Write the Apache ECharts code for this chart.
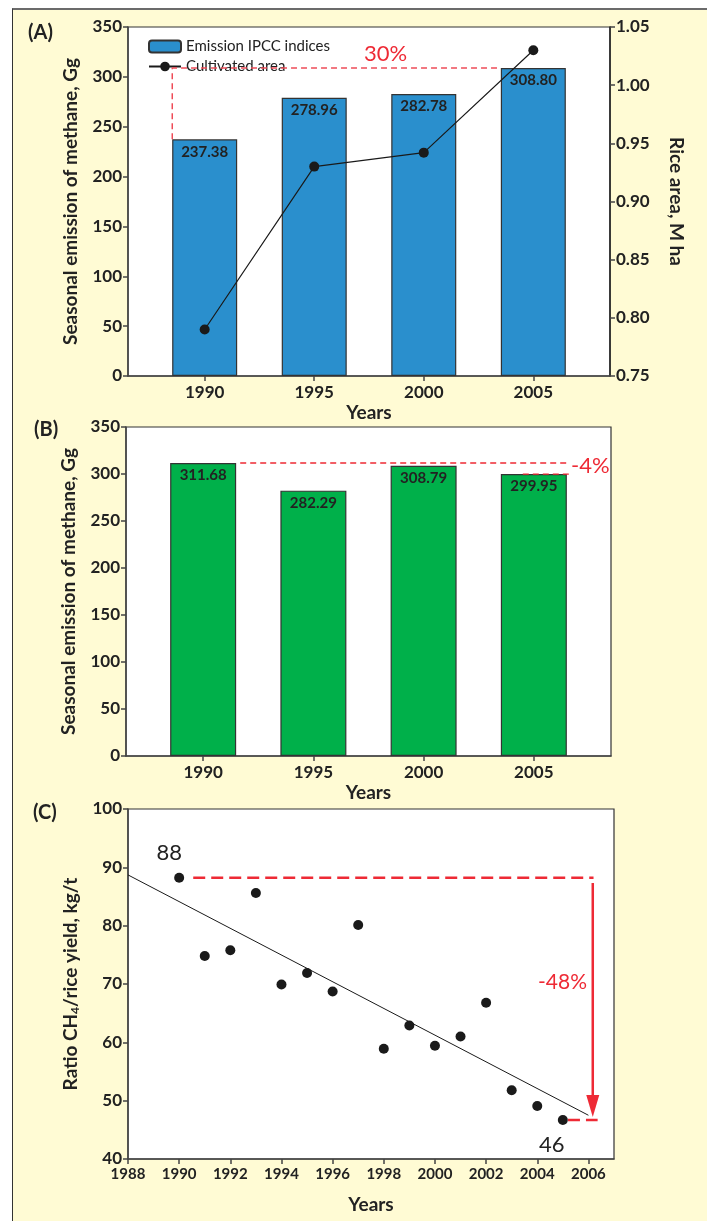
<!DOCTYPE html>
<html>
<head>
<meta charset="utf-8">
<script src="https://cdn.jsdelivr.net/npm/echarts@6/dist/echarts.min.js"></script>
<style>
  html, body { margin: 0; padding: 0; background: #fff; }
  #panel {
    position: absolute; left: 12px; top: 8px; right: 0; bottom: 0;
    background: #FFFBD4;
    border-top: 2px solid #6b6b6b;
    border-left: 1.5px solid #333;
  }
  #chart { position: absolute; left: 0; top: 0; width: 707px; height: 1221px; }
</style>
</head>
<body>
<div id="panel"></div>
<div id="chart"></div>
<script>
// ---- data ----
const barYears = [1990, 1995, 2000, 2005]
const emissionIPCC = [237.38, 278.96, 282.78, 308.80]   // (A) bars
const riceArea = [0.79, 0.93, 0.942, 1.03]               // (A) line, M ha
const emissionB = [311.68, 282.29, 308.79, 299.95]       // (B) bars

const ratioYears = [1990, 1991, 1992, 1993, 1994, 1995, 1996, 1997,
  1998, 1999, 2000, 2001, 2002, 2003, 2004, 2005]
const ratioCH4 = [88.2, 74.8, 75.8, 85.6, 69.9, 71.9, 68.7, 80.1,
  58.9, 62.9, 59.4, 61.0, 66.8, 51.8, 49.1, 46.7]
const trendLine = [[1988, 88.7], [2006, 47.5]]
const cTicks = [1988, 1990, 1992, 1994, 1996, 1998, 2000, 2002, 2004, 2006]

const FONT = 'Lato, "Open Sans", sans-serif'
const DARK = '#222'
const RED = '#EE2A35'
const BAR_HALF = 1.48   // half bar width in years (65px bars)

const tickLabel = { color: DARK, fontSize: 17, fontFamily: FONT, fontWeight: 'bold' }
const axisName = { color: DARK, fontSize: 19, fontFamily: FONT, fontWeight: 'bold' }
const axisLine = { show: true, lineStyle: { color: '#444', width: 1.5 } }
const axisTick = { show: true, length: 5, lineStyle: { color: '#444', width: 1.5 } }
const plainYear = v => String(v)

function yearAxis(gridIndex) {
  return {
    type: 'value', gridIndex, min: 1986.5, max: 2008.5,
    name: 'Years', nameLocation: 'middle', nameGap: 27, nameTextStyle: axisName,
    axisLine, splitLine: { show: false },
    axisTick: { ...axisTick, customValues: barYears },
    axisLabel: { ...tickLabel, customValues: barYears, margin: 8, formatter: plainYear },
  }
}

function emissionAxis(gridIndex) {
  return {
    type: 'value', gridIndex, min: 0, max: 350, interval: 50,
    name: 'Seasonal emission of methane, Gg', nameLocation: 'middle', nameGap: 48,
    nameTextStyle: axisName,
    axisLine, axisTick, splitLine: { show: false },
    axisLabel: { ...tickLabel, margin: 6 },
  }
}

function barLabel() {
  return {
    show: true, position: 'insideTop', distance: 5,
    color: DARK, fontSize: 15, fontFamily: FONT, fontWeight: 'bold',
    formatter: p => p.value[1].toFixed(2),
  }
}

const gridBox = { show: true, backgroundColor: '#fff', borderColor: '#333', borderWidth: 1.2 }

const option = {
  animation: false,
  grid: [
    { ...gridBox, left: 128, top: 27, width: 482, height: 349 },
    { ...gridBox, left: 126, top: 427, width: 485, height: 329 },
    { ...gridBox, left: 128, top: 809, width: 486, height: 350 },
  ],
  legend: {
    left: 143, top: 34, orient: 'vertical', itemWidth: 32, itemHeight: 12, itemGap: 5,
    textStyle: { color: DARK, fontSize: 15, fontFamily: FONT },
    data: ['Emission IPCC indices', 'Cultivated area'],
  },
  xAxis: [
    yearAxis(0),
    yearAxis(1),
    {
      type: 'value', gridIndex: 2, min: 1988, max: 2007,
      name: 'Years', nameLocation: 'middle', nameGap: 36, nameTextStyle: axisName,
      axisLine, splitLine: { show: false },
      axisTick: { ...axisTick, customValues: cTicks },
      axisLabel: { ...tickLabel, fontSize: 15, customValues: cTicks, margin: 8, formatter: plainYear },
    },
  ],
  yAxis: [
    emissionAxis(0),
    {
      type: 'value', gridIndex: 0, position: 'right', min: 0.75, max: 1.05, interval: 0.05,
      name: 'Rice area, M ha', nameLocation: 'middle', nameGap: 57, nameRotate: -90,
      nameTextStyle: axisName,
      axisLine: { show: true, lineStyle: { color: '#222', width: 1.5 } },
      axisTick, splitLine: { show: false },
      axisLabel: { ...tickLabel, margin: 6, formatter: v => v.toFixed(2) },
    },
    emissionAxis(1),
    {
      type: 'value', gridIndex: 2, min: 40, max: 100, interval: 10,
      name: 'Ratio CH{sub|4}/rice yield, kg/t', nameLocation: 'middle', nameGap: 47,
      nameTextStyle: {
        ...axisName,
        rich: { sub: { fontSize: 12, fontFamily: FONT, fontWeight: 'bold', color: DARK, verticalAlign: 'bottom', padding: [9, 0, 0, 0] } },
      },
      axisLine, axisTick, splitLine: { show: false },
      axisLabel: { ...tickLabel, margin: 6 },
    },
  ],
  series: [
    {
      name: 'Emission IPCC indices', type: 'bar', xAxisIndex: 0, yAxisIndex: 0,
      barWidth: 65,
      data: barYears.map((y, i) => [y, emissionIPCC[i]]),
      itemStyle: { color: '#2A8FCD', borderColor: '#333', borderWidth: 1.2 },
      label: barLabel(),
    },
    {
      name: 'Cultivated area', type: 'line', xAxisIndex: 0, yAxisIndex: 1,
      data: barYears.map((y, i) => [y, riceArea[i]]),
      symbol: 'circle', symbolSize: 10,
      lineStyle: { color: '#1a1a1a', width: 1.2 },
      itemStyle: { color: '#1a1a1a' },
      z: 5,
    },
    {
      type: 'line', xAxisIndex: 0, yAxisIndex: 0, symbol: 'none', silent: true,
      data: [
        [barYears[0] - BAR_HALF, emissionIPCC[0]],
        [barYears[0] - BAR_HALF, emissionIPCC[3]],
        [barYears[3] - BAR_HALF - 0.15, emissionIPCC[3]],
      ],
      lineStyle: { color: '#EE4C58', width: 1.5, type: [6, 4] },
      z: 4,
    },
    {
      type: 'bar', xAxisIndex: 1, yAxisIndex: 2, barWidth: 66,
      data: barYears.map((y, i) => [y, emissionB[i]]),
      itemStyle: { color: '#00B04A', borderColor: '#333', borderWidth: 1.2 },
      label: barLabel(),
    },
    {
      type: 'line', xAxisIndex: 1, yAxisIndex: 2, symbol: 'none', silent: true,
      data: [[barYears[0] + BAR_HALF + 0.2, emissionB[0]], [2006.64, emissionB[0]]],
      lineStyle: { color: '#EE2A35', width: 1.3, type: [6, 4] },
    },
    {
      type: 'line', xAxisIndex: 1, yAxisIndex: 2, symbol: 'none', silent: true,
      data: [[2004.5, emissionB[3]], [2006.64, emissionB[3]]],
      lineStyle: { color: '#EE2A35', width: 1.3, type: [6, 4] },
    },
    {
      type: 'line', xAxisIndex: 2, yAxisIndex: 3, symbol: 'none', silent: true,
      data: trendLine,
      lineStyle: { color: '#1a1a1a', width: 1 },
    },
    {
      type: 'line', xAxisIndex: 2, yAxisIndex: 3, symbol: 'none', silent: true,
      data: [[1990.55, ratioCH4[0]], [2006.2, ratioCH4[0]]],
      lineStyle: { color: RED, width: 2.5, type: [12, 6] },
    },
    {
      type: 'line', xAxisIndex: 2, yAxisIndex: 3, symbol: 'none', silent: true,
      data: [[2005.2, ratioCH4[15]], [2006.36, ratioCH4[15]]],
      lineStyle: { color: RED, width: 2.5, type: [12, 6] },
    },
    {
      type: 'line', xAxisIndex: 2, yAxisIndex: 3, symbol: 'none', silent: true,
      data: [[2006.17, 87.3], [2006.17, 50]],
      lineStyle: { color: RED, width: 2.5 },
    },
    {
      type: 'scatter', xAxisIndex: 2, yAxisIndex: 3, silent: true,
      symbol: 'triangle', symbolRotate: 180, symbolSize: [13, 22],
      itemStyle: { color: RED, opacity: 1 },
      data: [[2006.17, 49.1]],
    },
    {
      type: 'scatter', xAxisIndex: 2, yAxisIndex: 3,
      symbolSize: 10, itemStyle: { color: '#1a1a1a', opacity: 1 },
      data: ratioYears.map((y, i) => {
        const item = { value: [y, ratioCH4[i]] }
        if (i === 0) item.label = { show: true, formatter: '88', position: 'top', offset: [-10, -4] }
        if (i === ratioYears.length - 1) item.label = { show: true, formatter: '46', position: 'bottom', offset: [-11, 4] }
        return item
      }),
      label: { color: '#222', fontSize: 22, fontFamily: FONT },
      z: 6,
    },
  ],
  graphic: [
    { type: 'text', left: 28, top: 23, style: { text: '(A)', font: 'bold 20px Lato, sans-serif', fill: DARK } },
    { type: 'text', left: 34, top: 420, style: { text: '(B)', font: 'bold 20px Lato, sans-serif', fill: DARK } },
    { type: 'text', left: 33, top: 803, style: { text: '(C)', font: 'bold 20px Lato, sans-serif', fill: DARK } },
    { type: 'text', left: 364, top: 43, style: { text: '30%', font: '22px Lato, sans-serif', fill: RED } },
    { type: 'text', left: 571, top: 455, style: { text: '-4%', font: '22px Lato, sans-serif', fill: RED } },
    { type: 'text', left: 538, top: 972, style: { text: '-48%', font: '21px Lato, sans-serif', fill: RED } },
  ],
}

const chart = echarts.init(document.getElementById('chart'), null, { renderer: 'canvas' })
chart.setOption(option)
</script>
</body>
</html>
